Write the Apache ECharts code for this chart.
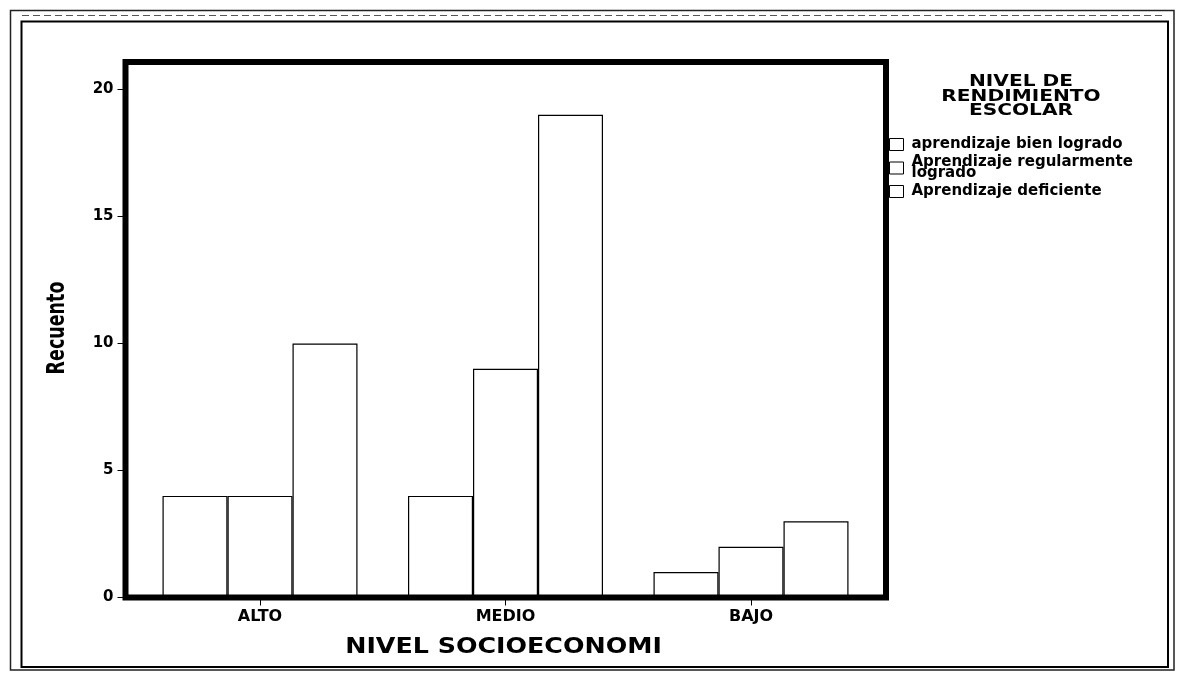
<!DOCTYPE html>
<html>
<head>
<meta charset="utf-8">
<script src="https://cdn.jsdelivr.net/npm/echarts@6/dist/echarts.min.js"></script>
<style>
  html, body { margin: 0; padding: 0; background: #fff; }
  #chart { width: 1177px; height: 673px; }
</style>
</head>
<body>
<div id="chart"></div>
<script>
// Counts of students per socioeconomic level and school performance level
const categories = ['ALTO', 'MEDIO', 'BAJO'];
const bienLogrado = [4, 4, 1];
const regularmenteLogrado = [4, 9, 2];
const deficiente = [10, 19, 3];
const seriesNames = [
  'aprendizaje bien logrado',
  'Aprendizaje regularmente\nlogrado',
  'Aprendizaje deficiente'
];
const yTicks = [0, 5, 10, 15, 20];
const yMax = 21.08;

const chart = echarts.init(document.getElementById('chart'), null, { renderer: 'canvas' });

const baseFont = 'DejaVu Sans';

const barStyle = { color: '#fff', borderColor: '#000', borderWidth: 1.2 };

function barSeries(name, values) {
  return {
    type: 'bar',
    name: name,
    data: values,
    xAxisIndex: 1,
    yAxisIndex: 1,
    barWidth: 65,
    barGap: '0%',
    itemStyle: barStyle,
    emphasis: { disabled: true },
    z: 2
  };
}

// wide bold title text, stretched a little horizontally
function titleText(opts) {
  return Object.assign({
    type: 'text',
    silent: true,
    style: {
      text: opts.text, x: 0, y: 0, align: 'center', verticalAlign: 'middle',
      fontFamily: baseFont, fontWeight: 'bold', fontSize: opts.size,
      lineHeight: opts.lineHeight || opts.size, fill: '#000'
    }
  }, opts.transform);
}

chart.setOption({
  backgroundColor: '#fff',
  animation: false,
  grid: [
    // plot frame (drawn above the bars so the heavy border stays intact)
    { left: 125.5, top: 62, width: 760.5, height: 535.5, show: true,
      backgroundColor: 'transparent', borderColor: '#000', borderWidth: 6, z: 10 },
    // bar area
    { left: 137.25, top: 62, width: 736.5, height: 535.5, show: false }
  ],
  xAxis: [
    { gridIndex: 0, type: 'value', min: 0, max: 1, show: false },
    {
      gridIndex: 1, type: 'category', data: categories,
      axisLine: { show: false },
      axisTick: { show: true, alignWithLabel: true, length: 8, lineStyle: { color: '#000', width: 1 } },
      axisLabel: { color: '#000', fontFamily: baseFont, fontWeight: 'bold', fontSize: 16, margin: 11 },
      splitLine: { show: false }
    }
  ],
  yAxis: [
    {
      gridIndex: 0, type: 'value', min: 0, max: yMax,
      axisLine: { show: false },
      axisTick: { show: true, length: 8, customValues: yTicks, lineStyle: { color: '#000', width: 1 } },
      axisLabel: { color: '#000', fontFamily: baseFont, fontWeight: 'bold', fontSize: 15, margin: 12, customValues: yTicks },
      splitLine: { show: false }
    },
    { gridIndex: 1, type: 'value', min: 0, max: yMax, show: false }
  ],
  legend: {
    orient: 'vertical',
    left: 889,
    top: 137,
    padding: 0,
    itemGap: 3,
    itemWidth: 14,
    itemHeight: 12,
    itemStyle: { color: '#fff', borderColor: '#000', borderWidth: 1 },
    icon: 'rect',
    selectedMode: false,
    textStyle: { color: '#000', fontFamily: baseFont, fontWeight: 'bold', fontSize: 15, lineHeight: 11, padding: [0, 0, 0, 3] },
    data: seriesNames
  },
  series: [
    barSeries(seriesNames[0], bienLogrado),
    barSeries(seriesNames[1], regularmenteLogrado),
    barSeries(seriesNames[2], deficiente)
  ],
  graphic: [
    // page frame
    { type: 'rect', shape: { x: 10.5, y: 10.5, width: 1163.5, height: 659.5 },
      style: { fill: 'none', stroke: '#222', lineWidth: 1.5 }, silent: true },
    { type: 'line', shape: { x1: 22, y1: 15.5, x2: 1166, y2: 15.5 },
      style: { stroke: '#555', lineWidth: 1, lineDash: [7, 4] }, silent: true },
    { type: 'rect', shape: { x: 21.5, y: 21.5, width: 1146.5, height: 645.5 },
      style: { fill: 'none', stroke: '#000', lineWidth: 2 }, silent: true },
    // axis titles
    titleText({ text: 'NIVEL SOCIOECONOMI', size: 20.6,
      transform: { x: 503.5, y: 647.5, scaleX: 1.23 } }),
    titleText({ text: 'Recuento', size: 17.5,
      transform: { x: 57.5, y: 328, rotation: Math.PI / 2, scaleY: 1.45 } }),
    // legend title
    titleText({ text: 'NIVEL DE\nRENDIMIENTO\nESCOLAR', size: 16.5, lineHeight: 14.5,
      transform: { x: 1021, y: 96.5, scaleX: 1.22 } })
  ]
});
</script>
</body>
</html>
